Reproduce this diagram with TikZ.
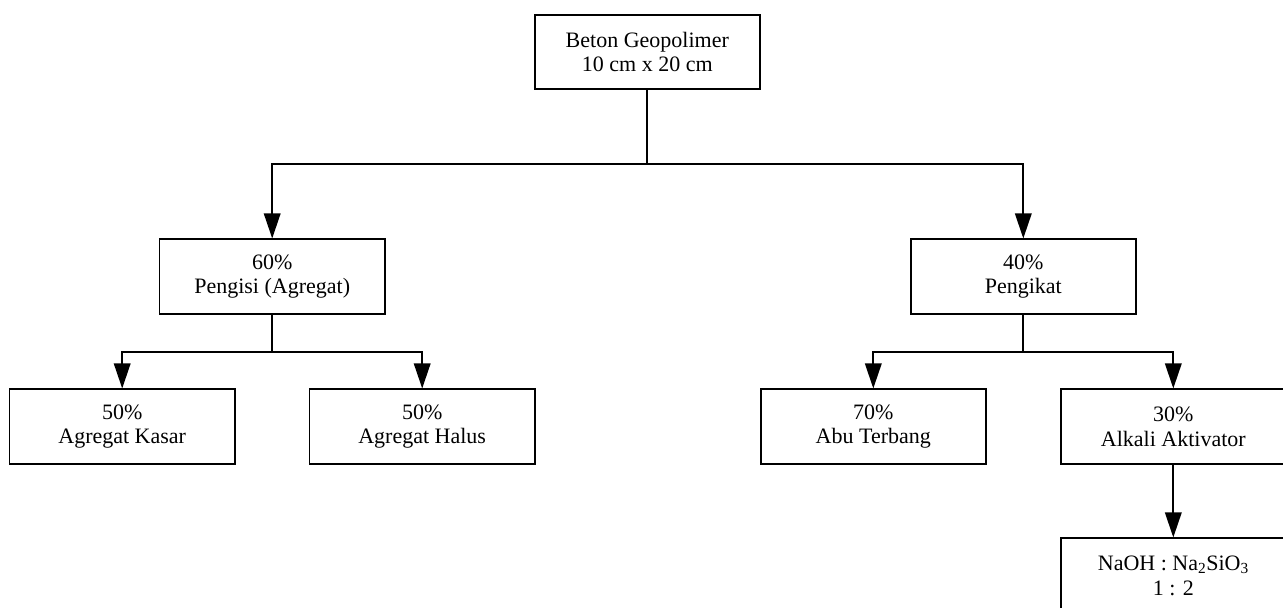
\documentclass[tikz,border=0pt]{standalone}
\usepackage{fontspec}
\setmainfont{Liberation Serif}
\usetikzlibrary{arrows.meta}
\begin{document}
\begin{tikzpicture}[x=1pt,y=-1pt,
  box/.style={draw, line width=1.8pt, minimum width=225.3pt, minimum height=74.7pt,
    align=center, inner sep=0pt, font=\fontsize{22}{24.7}\selectfont},
  conn/.style={line width=1.8pt},
  arr/.style={conn, -{Triangle[length=25pt,width=16.5pt]}}]
\useasboundingbox (0,0) rectangle (1283,608);
\node[box] (top) at (647.3,52) {Beton Geopolimer\\10 cm x 20 cm};
\node[box] (pengisi) at (272.2,276.7) {60\%\\Pengisi (Agregat)};
\node[box] (pengikat) at (1023.3,276.7) {40\%\\Pengikat};
\node[box] (kasar) at (122.2,426.7) {50\%\\Agregat Kasar};
\node[box] (halus) at (422.2,426.7) {50\%\\Agregat Halus};
\node[box] (abu) at (873.3,426.7) {70\%\\Abu Terbang};
\node[box] (alkali) at (1173.3,426.7) {30\%\\Alkali Aktivator};
\node[box] (naoh) at (1173.3,575.7) {NaOH : Na\textsubscript{2}SiO\textsubscript{3}\\1 : 2};
\coordinate (j0) at (647.3,164);
\coordinate (j1) at (272.2,351.7);
\coordinate (j2) at (1023.3,351.7);
\draw[conn] (top.south) -- (j0);
\draw[arr] (j0) -| (pengisi.north);
\draw[arr] (j0) -| (pengikat.north);
\draw[conn] (pengisi.south) -- (j1);
\draw[arr] (j1) -| (kasar.north);
\draw[arr] (j1) -| (halus.north);
\draw[conn] (pengikat.south) -- (j2);
\draw[arr] (j2) -| (abu.north);
\draw[arr] (j2) -| (alkali.north);
\draw[arr] (alkali.south) -- (naoh.north);
\end{tikzpicture}
\end{document}
